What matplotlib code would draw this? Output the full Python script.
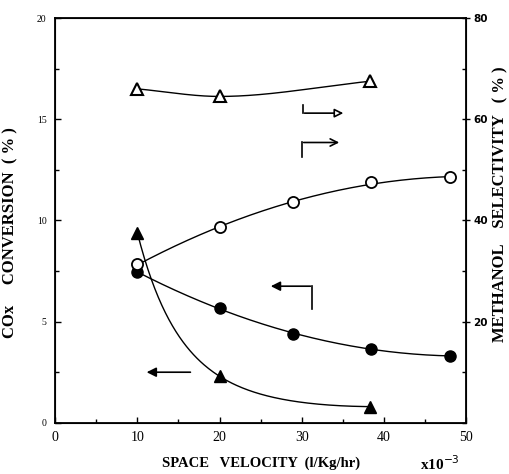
import numpy as np
import matplotlib
matplotlib.use('Agg')
import matplotlib.pyplot as plt
from matplotlib.ticker import MultipleLocator

plt.rcParams['font.family'] = ['Liberation Serif', 'DejaVu Serif']

# space velocity (x10^3 l/Kg/hr)
sv_co = [10, 20, 29, 38.4, 48]
co_conv_A = [7.45, 5.65, 4.4, 3.66, 3.3]      # filled circles, left axis
meoh_sel_A = [31.3, 38.6, 43.6, 47.5, 48.5]   # open circles, right axis

sv_co2 = [10, 20, 38.3]
co_conv_B = [9.4, 2.3, 0.8]                   # filled triangles, left axis
meoh_sel_B = [66.0, 64.5, 67.5]               # open triangles, right axis


def fit_curve(x, y, deg, log=False):
    x = np.asarray(x, float)
    y = np.asarray(y, float)
    xs = np.linspace(x.min(), x.max(), 200)
    if log:
        c = np.polyfit(x, np.log(y), deg)
        return xs, np.exp(np.polyval(c, xs))
    c = np.polyfit(x, y, deg)
    return xs, np.polyval(c, xs)


def pchip(x, y):
    # monotone cubic through the points, end slopes = end secants
    x = np.asarray(x, float)
    y = np.asarray(y, float)
    h = np.diff(x)
    d = np.diff(y) / h
    m = np.zeros_like(y)
    for k in range(1, len(x) - 1):
        if d[k - 1] * d[k] > 0:
            w1 = 2 * h[k] + h[k - 1]
            w2 = h[k] + 2 * h[k - 1]
            m[k] = (w1 + w2) / (w1 / d[k - 1] + w2 / d[k])
    m[0] = d[0]
    m[-1] = d[-1]
    xs = np.linspace(x[0], x[-1], 300)
    k = np.clip(np.searchsorted(x, xs) - 1, 0, len(h) - 1)
    t = (xs - x[k]) / h[k]
    h00 = 2 * t**3 - 3 * t**2 + 1
    h10 = t**3 - 2 * t**2 + t
    h01 = -2 * t**3 + 3 * t**2
    h11 = t**3 - t**2
    ys = h00 * y[k] + h10 * h[k] * m[k] + h01 * y[k + 1] + h11 * h[k] * m[k + 1]
    return xs, ys


fig = plt.figure(figsize=(5.10, 4.74), dpi=100)
ax = fig.add_axes([0.108, 0.108, 0.806, 0.854])
ax2 = ax.twinx()

lw = 1.0
# left-axis series
xs, ys = fit_curve(sv_co, co_conv_A, 2)
ax.plot(xs, ys, color='black', lw=lw)
ax.plot(sv_co, co_conv_A, 'o', ms=8, color='black')
xs, ys = fit_curve(sv_co2, co_conv_B, 2, log=True)
ax.plot(xs, ys, color='black', lw=lw)
ax.plot(sv_co2, co_conv_B, '^', ms=8, color='black')

# right-axis series
xs, ys = fit_curve(sv_co, meoh_sel_A, 2)
ax2.plot(xs, ys, color='black', lw=lw)
ax2.plot(sv_co, meoh_sel_A, 'o', ms=8, mfc='white', mec='black', mew=1.3)
xs, ys = pchip(sv_co2, meoh_sel_B)
ax2.plot(xs, ys, color='black', lw=lw)
ax2.plot(sv_co2, meoh_sel_B, '^', ms=8, mfc='white', mec='black', mew=1.5)

ax.set_xlim(0, 50)
ax.set_ylim(0, 20)
ax2.set_ylim(0, 80)

# arrows
ap = dict(arrowstyle='-|>', color='black', lw=1.2, mutation_scale=14)
ax.annotate('', xy=(10.8, 2.5), xytext=(16.8, 2.5), arrowprops=ap)
ax.plot([31.3, 31.3], [5.6, 6.75], color='black', lw=1.2)
ax.annotate('', xy=(25.9, 6.75), xytext=(31.4, 6.75), arrowprops=ap)
ax.plot([30.1, 30.1], [15.7, 15.3], color='black', lw=1.2)
ax.annotate('', xy=(35.4, 15.3), xytext=(30.0, 15.3),
            arrowprops=dict(arrowstyle='-|>', color='black', lw=1.2,
                            mutation_scale=13, fc='white'))
ax.plot([30.0, 30.0], [13.85, 13.15], color='black', lw=1.2)
ax.annotate('', xy=(34.9, 13.85), xytext=(29.9, 13.85),
            arrowprops=dict(arrowstyle='->', color='black', lw=1.2,
                            mutation_scale=13))

# ticks
ax.xaxis.set_major_locator(MultipleLocator(10))
ax.xaxis.set_minor_locator(MultipleLocator(5))
ax.yaxis.set_major_locator(MultipleLocator(5))
ax.yaxis.set_minor_locator(MultipleLocator(2.5))
ax2.yaxis.set_minor_locator(MultipleLocator(10))
ax.tick_params(which='both', direction='in', top=False)
ax.tick_params(which='major', length=4, width=1)
ax.tick_params(which='minor', length=3, width=1)
ax.tick_params(axis='x', labelsize=10, pad=6)
ax.tick_params(axis='y', labelsize=7, pad=6)
ax2.tick_params(which='major', direction='inout', length=6, width=1,
                labelsize=7.5, pad=2)
ax2.tick_params(which='minor', direction='in', length=3, width=1)
ax2.set_yticks([20, 40, 60, 80])
ax2.set_yticklabels(['20', '40', '60', '80'], fontweight='bold',
                    family='Liberation Sans Narrow')

for sp in ax.spines.values():
    sp.set_linewidth(1.3)

ax.set_xlabel('SPACE   VELOCITY  (l/Kg/hr)', fontsize=10.5, fontweight='bold')
ax.xaxis.set_label_coords(0.5, -0.083)
ax.text(0.985, -0.1, r'x10$^{-3}$', transform=ax.transAxes, fontsize=11,
        fontweight='bold', ha='right', va='center')
ax.set_ylabel('COx     CONVERSION  ( % )', fontsize=12, fontweight='bold')
ax.yaxis.set_label_coords(-0.09, 0.47)
ax2.set_ylabel('METHANOL    SELECTIVITY   ( % )', fontsize=12,
               fontweight='bold', rotation=90)
ax2.yaxis.set_label_coords(1.064, 0.54)

fig.savefig('out.png', dpi=100)
